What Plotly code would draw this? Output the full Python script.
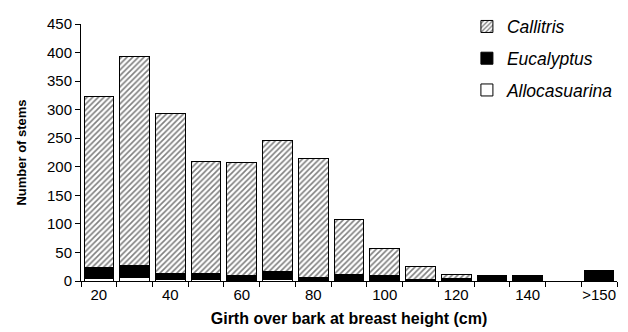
import plotly.graph_objects as go

categories = ["20", "30", "40", "50", "60", "70", "80", "90", "100", "110", "120", "130", "140", "150", ">150"]
tick_labels = ["20", "", "40", "", "60", "", "80", "", "100", "", "120", "", "140", "", ">150"]
allocasuarina = [5, 7, 2, 2, None, 3, None, None, None, None, None, None, None, None, None]
eucalyptus = [18, 20, 12, 12, 10, 13, 7, 12, 10, 2, 5, 9, 9, None, 17]
callitris = [300, 366, 279, 196, 197, 230, 208, 96, 47, 24, 6, None, None, None, 2]

font = "Liberation Sans, Arial, sans-serif"
fig = go.Figure()
fig.add_trace(go.Bar(
    x=categories, y=allocasuarina, name="<i>Allocasuarina</i>", legendgroup="a", legendrank=3,
    marker=dict(color="white", line=dict(color="black", width=1)),
))
fig.add_trace(go.Bar(
    x=categories, y=eucalyptus, name="<i>Eucalyptus</i>", legendgroup="b", legendrank=2,
    marker=dict(color="black", line=dict(color="black", width=1)),
))
fig.add_trace(go.Bar(
    x=categories, y=callitris, name="<i>Callitris</i>", legendgroup="c", legendrank=1,
    marker=dict(color="white", line=dict(color="black", width=1),
                pattern=dict(shape="/", fgcolor="black", bgcolor="white", size=4, solidity=0.4)),
))

fig.update_layout(
    width=628, height=332,
    margin=dict(l=81, r=9, t=19, b=51),
    barmode="stack", bargap=0.17,
    plot_bgcolor="white", paper_bgcolor="white",
    font=dict(family=font, size=15, color="black"),
    showlegend=True,
    legend=dict(x=0.72, y=1.06, xanchor="left", yanchor="top", traceorder="grouped",
                tracegroupgap=6, font=dict(size=17.5, family=font), bgcolor="rgba(0,0,0,0)"),
    xaxis=dict(
        type="category", tickmode="array", tickvals=categories, ticktext=tick_labels,
        tickson="boundaries", ticks="outside", ticklen=5, tickcolor="black", tickangle=0,
        showline=True, linecolor="black", linewidth=1, showgrid=False,
        title=dict(text="<b>Girth over bark at breast height (cm)</b>", font=dict(size=16), standoff=10),
        tickfont=dict(size=15),
    ),
    yaxis=dict(
        range=[0, 450], tickvals=list(range(0, 451, 50)), ticks="outside", ticklen=5, tickcolor="black",
        showline=True, linecolor="black", linewidth=1, showgrid=False, zeroline=False,
        title=dict(text="<b>Number of stems</b>", font=dict(size=13), standoff=17),
        tickfont=dict(size=15),
    ),
)

fig.write_html("out.html")
